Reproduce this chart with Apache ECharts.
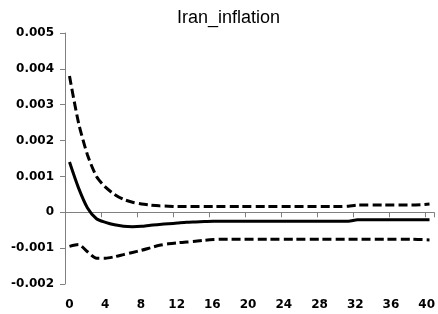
<!DOCTYPE html>
<html>
<head>
<meta charset="utf-8">
<script src="https://cdn.jsdelivr.net/npm/echarts@6/dist/echarts.min.js"></script>
<style>html,body{margin:0;padding:0;background:#fff}#c{width:438px;height:314px}</style>
</head>
<body>
<div id="c"></div>
<script>
var periods = [];
for (var k = 0; k <= 40; k++) periods.push(String(k));

var response = [0.00140, 0.00068, 0.00012, -0.00018, -0.00028, -0.00035, -0.00039, -0.00040, -0.00039, -0.00036,
  -0.00034, -0.00032, -0.00030, -0.00028, -0.00027, -0.00026, -0.00025, -0.00025, -0.00025, -0.00025,
  -0.00025, -0.00025, -0.00025, -0.00025, -0.00025, -0.00025, -0.00025, -0.00025, -0.00025, -0.00025,
  -0.00025, -0.00025, -0.00021, -0.00021, -0.00021, -0.00021, -0.00021, -0.00021, -0.00021, -0.00021, -0.00021];

var upper = [0.00380, 0.00250, 0.00160, 0.00100, 0.00070, 0.00050, 0.00036, 0.00028, 0.00023, 0.00020,
  0.00018, 0.00017, 0.00016, 0.00016, 0.00016, 0.00016, 0.00016, 0.00016, 0.00016, 0.00016,
  0.00016, 0.00016, 0.00016, 0.00016, 0.00016, 0.00016, 0.00016, 0.00016, 0.00016, 0.00016,
  0.00016, 0.00017, 0.00020, 0.00020, 0.00020, 0.00020, 0.00020, 0.00020, 0.00020, 0.00021, 0.00023];

var lower = [-0.00095, -0.00090, -0.00110, -0.00128, -0.00128, -0.00124, -0.00118, -0.00112, -0.00106, -0.00099,
  -0.00092, -0.00088, -0.00085, -0.00083, -0.00081, -0.00078, -0.00076, -0.00075, -0.00075, -0.00075,
  -0.00075, -0.00075, -0.00075, -0.00075, -0.00075, -0.00075, -0.00075, -0.00075, -0.00075, -0.00075,
  -0.00075, -0.00075, -0.00075, -0.00075, -0.00075, -0.00075, -0.00075, -0.00075, -0.00075, -0.00076, -0.00077];

var yMin = -0.002, yMax = 0.005, yStep = 0.001;

var chart = echarts.init(document.getElementById('c'), null, {renderer: 'canvas'});
var labelFont = {fontFamily: 'DejaVu Sans', fontWeight: 'bold', fontSize: 12, color: '#000'};
var gridPos = {left: 65, top: 33, width: 369, height: 251};
var lineGray = '#808080';

chart.setOption({
  animation: false,
  backgroundColor: '#fff',
  title: {
    text: 'Iran_inflation',
    left: 177, top: 9, padding: 0,
    textStyle: {fontFamily: 'Liberation Sans', fontWeight: 'normal', fontSize: 18, color: '#000'}
  },
  grid: [
    Object.assign({}, gridPos),
    Object.assign({}, gridPos)
  ],
  xAxis: [
    {
      gridIndex: 0, type: 'category', data: periods, boundaryGap: true,
      axisLine: {onZero: true, lineStyle: {color: lineGray, width: 1}},
      axisTick: {show: true, interval: 3, length: 5, inside: false, lineStyle: {color: lineGray}},
      axisLabel: {show: false},
      splitLine: {show: false}
    },
    {
      gridIndex: 1, type: 'category', data: periods, boundaryGap: true, position: 'bottom',
      axisLine: {show: false, onZero: false},
      axisTick: {show: false},
      axisLabel: Object.assign({interval: 3, margin: 15}, labelFont),
      splitLine: {show: false}
    }
  ],
  yAxis: [
    {
      gridIndex: 0, type: 'value', min: yMin, max: yMax, interval: yStep,
      axisLine: {show: true, lineStyle: {color: lineGray, width: 1}},
      axisTick: {show: true, length: 5, inside: false, lineStyle: {color: lineGray}},
      axisLabel: Object.assign({
        margin: 11,
        formatter: function (v) { return Math.abs(v) < 1e-12 ? '0' : v.toFixed(3); }
      }, labelFont),
      splitLine: {show: false}
    },
    {
      gridIndex: 1, type: 'value', min: yMin, max: yMax, interval: yStep, show: false
    }
  ],
  series: [
    {
      type: 'line', xAxisIndex: 0, yAxisIndex: 0, data: upper, symbol: 'none', smooth: 0.25,
      lineStyle: {color: '#000', width: 3, type: [9, 4]}
    },
    {
      type: 'line', xAxisIndex: 0, yAxisIndex: 0, data: lower, symbol: 'none', smooth: 0.25,
      lineStyle: {color: '#000', width: 3, type: [9, 4]}
    },
    {
      type: 'line', xAxisIndex: 0, yAxisIndex: 0, data: response, symbol: 'none', smooth: 0.25,
      lineStyle: {color: '#000', width: 3, type: 'solid'}
    }
  ]
});
</script>
</body>
</html>
